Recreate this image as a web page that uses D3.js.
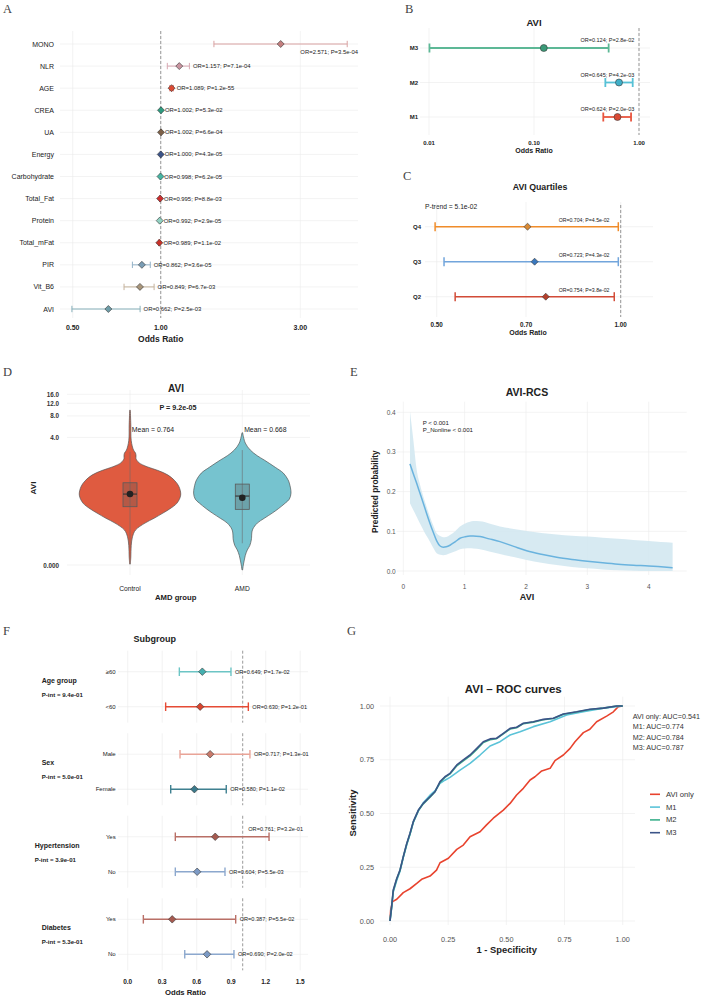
<!DOCTYPE html>
<html><head><meta charset="utf-8">
<script src="https://cdn.jsdelivr.net/npm/d3@7"></script>
<style>body{margin:0;background:#fff}</style>
</head><body>
<svg id="c" width="703" height="999"></svg>
<script>
// ---------------- DATA ----------------
// Panel A
const aVars = ["MONO","NLR","AGE","CREA","UA","Energy","Carbohydrate","Total_Fat","Protein","Total_mFat","PIR","Vit_B6","AVI"];
const aOR   = [2.571,1.157,1.089,1.002,1.002,1.000,0.998,0.995,0.992,0.989,0.862,0.849,0.662];
const aLow  = [1.52,1.053,1.075,0.997,0.998,0.997,0.995,0.991,0.988,0.984,0.80,0.749,0.497];
const aHigh = [4.34,1.253,1.103,1.006,1.006,1.003,1.001,0.999,0.996,0.994,0.921,0.949,0.85];
const aP    = ["3.5e-04","7.1e-04","1.2e-55","5.3e-02","6.6e-04","4.3e-05","6.2e-05","8.8e-03","2.9e-05","1.1e-02","3.6e-05","6.7e-03","2.5e-03"];
const aPtCol  = ["#C47F7F","#C994A0","#DD4A33","#2E9C80","#7E6148","#3C5488","#46B5A3","#CC2F2F","#91D1C2","#C8322A","#7A9DB5","#A8957A","#6E9DA8"];
const aBarCol = ["#D9A2A2","#D8A8B2","#E06050","#3FA88F","#8B6E52","#4A62A0","#5BBDAD","#D04040","#A0D8CB","#CC4035","#93B2C8","#C5B39C","#86B0BA"];
const aTicks = [0.5,1,3];

// Panel B
const bModels = ["M1","M2","M3"];
const bOR   = [0.624,0.645,0.124];
const bLow  = [0.457,0.478,0.0101];
const bHigh = [0.84,0.871,0.514];
const bP    = ["2.0e-03","4.2e-03","2.8e-02"];
const bBarCol = ["#E8553F","#56C1D6","#5DB896"];
const bPtCol  = ["#D94A35","#3FAFC8","#3A9A78"];
const bTicks = [0.01,0.1,1];
const bLabelAt = 0.5;

// Panel C
const cQuart = ["Q2","Q3","Q4"];
const cOR   = [0.754,0.723,0.704];
const cLow  = [0.536,0.514,0.497];
const cHigh = [0.976,0.991,0.991];
const cP    = ["3.8e-02","4.3e-02","4.5e-02"];
const cBarCol = ["#D24B37","#72A5DC","#F08C2A"];
const cPtCol  = ["#B5402B","#3A78BE","#D98A35"];
const cTicks = [0.5,0.7,1];
const cLabelAt = 0.871;
const cTrend = "P-trend = 5.1e-02";

// Panel D (violin)
const dGroups = ["Control","AMD"];
const dFill = ["#DF5B40","#76C3CF"];
const ctrlLevels = [9.6,6.0,3.6,2.65,2.4,2.2,2.0,1.75,1.53,1.35,1.157,0.95,0.775,0.579,0.433,0.35,0.296,0.24,0.196,0.143,0.102,0.06,0.02,0.002];
const ctrlDens   = [0.006,0.016,0.024,0.069,0.108,0.118,0.118,0.176,0.333,0.549,0.745,0.882,0.961,0.994,0.922,0.784,0.647,0.471,0.294,0.108,0.049,0.024,0.016,0.006];
const amdLevels  = [4.65,3.33,2.65,2.2,1.91,1.5,1.237,1.0,0.881,0.622,0.5,0.433,0.35,0.296,0.24,0.196,0.15,0.124,0.1,0.085,0.06,0.043,0.025,0.012,0.0,-0.012];
const amdDens    = [0.006,0.059,0.157,0.294,0.431,0.647,0.804,0.892,0.922,0.955,0.922,0.843,0.706,0.588,0.431,0.294,0.206,0.186,0.182,0.176,0.147,0.098,0.059,0.039,0.02,0.006];
const dQ1 = [0.378,0.342], dMed = [0.60,0.559], dQ3 = [0.89,0.851];
const dWhLo = [0.05,0.07], dWhHi = [2.5,2.65];
const dMeanDot = [0.60,0.526];
const dMeanLab = ["Mean = 0.764","Mean = 0.668"];
const dTicks = [0,4,8,12,16];
const dTickLab = ["0.000","4.0","8.0","12.0","16.0"];
const dPval = "P = 9.2e-05";

// Panel E (RCS)
const eX   = [0.109,0.163,0.218,0.272,0.326,0.38,0.435,0.49,0.544,0.6,0.652,0.7,0.761,0.85,0.924,1.0,1.087,1.14,1.25,1.4,1.576,1.8,2.011,2.25,2.5,2.75,3.0,3.25,3.5,3.75,4.0,4.2,4.39];
const eFit = [0.270,0.245,0.221,0.196,0.171,0.145,0.120,0.097,0.076,0.063,0.060,0.061,0.065,0.074,0.0825,0.086,0.0884,0.0885,0.0867,0.081,0.074,0.062,0.051,0.042,0.0345,0.029,0.0245,0.0205,0.017,0.0145,0.0126,0.0105,0.0084];
const eHi  = [0.402,0.331,0.255,0.218,0.188,0.162,0.137,0.114,0.095,0.088,0.085,0.086,0.091,0.101,0.112,0.119,0.124,0.126,0.1255,0.120,0.112,0.106,0.101,0.096,0.092,0.089,0.0867,0.084,0.081,0.078,0.0755,0.073,0.0715];
const eLo  = [0.171,0.154,0.137,0.120,0.1035,0.088,0.074,0.058,0.0447,0.041,0.040,0.041,0.0447,0.050,0.055,0.057,0.0575,0.057,0.055,0.049,0.043,0.035,0.028,0.021,0.015,0.010,0.0068,0.004,0.0022,0.0008,0.0003,0.0001,0.0];
const eXTicks = [0,1,2,3,4];
const eYTicks = [0,0.1,0.2,0.3,0.4];

// Panel F (subgroup)
const fGroups = ["Age group","Sex","Hypertension","Diabetes"];
const fPint   = ["9.4e-01","5.0e-01","3.9e-01","5.3e-01"];
const fRowGroup = [0,0,1,1,2,2,3,3];
const fRowLab = ["≥60","<60","Male","Female","Yes","No","Yes","No"];
const fOR   = [0.649,0.630,0.717,0.580,0.761,0.604,0.387,0.690];
const fLow  = [0.449,0.33,0.455,0.374,0.414,0.414,0.136,0.496];
const fHigh = [0.898,1.049,1.063,0.857,1.229,0.846,0.939,0.924];
const fP    = ["1.7e-02","1.2e-01","1.3e-01","1.1e-02","3.2e-01","5.5e-03","5.5e-02","2.0e-02"];
const fBarCol = ["#6CC5C5","#E64B35","#E9A497","#3F8090","#B96F66","#8CA8CE","#B96F66","#8CA8CE"];
const fPtCol  = ["#45B0B0","#D9452E","#C97A6B","#3A7A8C","#A65A50","#7C9AC5","#A65A50","#7C9AC5"];
const fTicks = [0,0.3,0.6,0.9,1.2,1.5];

// Panel G (ROC)
const rocNames = ["AVI only","M1","M2","M3"];
const rocAUC = ["0.541","0.774","0.784","0.787"];
const rocCol = ["#E8432E","#5BC3D8","#3DB08D","#3C5488"];
const rocAviFpr = [0,0.003,0.011,0.029,0.057,0.086,0.115,0.136,0.172,0.2,0.215,0.251,0.287,0.315,0.344,0.387,0.415,0.444,0.487,0.516,0.544,0.573,0.602,0.623,0.652,0.688,0.709,0.745,0.774,0.795,0.831,0.859,0.888,0.931,0.96,0.981,1.0];
const rocAviTpr = [0,0.051,0.09,0.101,0.132,0.150,0.175,0.194,0.209,0.237,0.271,0.292,0.333,0.353,0.392,0.415,0.447,0.478,0.516,0.547,0.586,0.617,0.656,0.671,0.698,0.710,0.746,0.772,0.803,0.834,0.876,0.892,0.927,0.953,0.973,0.997,1.0];
const rocM1Fpr = [0,0.007,0.014,0.029,0.043,0.057,0.072,0.086,0.1,0.122,0.143,0.172,0.193,0.215,0.236,0.258,0.301,0.344,0.387,0.43,0.473,0.516,0.559,0.616,0.688,0.759,0.831,0.917,1.0];
const rocM1Tpr = [0,0.06,0.135,0.19,0.232,0.295,0.355,0.403,0.458,0.512,0.55,0.585,0.605,0.64,0.655,0.668,0.702,0.733,0.772,0.814,0.834,0.865,0.880,0.904,0.927,0.958,0.973,0.99,1.0];
const rocM23Fpr = [0,0.007,0.014,0.029,0.043,0.057,0.072,0.086,0.1,0.122,0.143,0.172,0.193,0.215,0.236,0.258,0.287,0.315,0.344,0.373,0.401,0.43,0.458,0.487,0.516,0.544,0.573,0.616,0.659,0.702,0.745,0.802,0.859,0.917,0.974,1.0];
const rocM2Tpr = [0,0.065,0.14,0.195,0.235,0.297,0.358,0.405,0.46,0.514,0.545,0.576,0.6,0.645,0.668,0.684,0.722,0.745,0.768,0.798,0.83,0.843,0.848,0.87,0.893,0.899,0.918,0.925,0.936,0.942,0.962,0.972,0.984,0.99,1.0,1.0];
const rocM3Tpr = [0,0.067,0.144,0.198,0.237,0.299,0.361,0.408,0.462,0.516,0.547,0.578,0.601,0.648,0.671,0.687,0.726,0.749,0.772,0.803,0.834,0.847,0.85,0.873,0.896,0.901,0.92,0.927,0.938,0.943,0.963,0.973,0.985,0.99,1.0,1.0];
const gTicks = [0,0.25,0.5,0.75,1];

// ---------------- DRAW ----------------
const svg = d3.select("#c");
svg.append("rect").attr("width",703).attr("height",999).attr("fill","#fff");
const GRID = "#EBEBEB";
const SANS = "'Liberation Sans', Arial, Helvetica, sans-serif";
const SERIF = "'Liberation Serif', 'DejaVu Serif', serif";

function txt(g, x, y, s, o = {}) {
  const t = g.append("text").attr("x", x).attr("y", y).text(s)
    .attr("font-size", o.size || 7)
    .attr("font-weight", o.bold ? "bold" : "normal")
    .attr("fill", o.fill || "#222")
    .attr("text-anchor", o.anchor || "start")
    .attr("dominant-baseline", "central")
    .attr("font-family", o.serif ? SERIF : SANS);
  if (o.rot) t.attr("transform", `rotate(-90,${x},${y})`);
  return t;
}
function hline(g, x1, x2, y, col, w) {
  return g.append("line").attr("x1", x1).attr("x2", x2).attr("y1", y).attr("y2", y)
    .attr("stroke", col || GRID).attr("stroke-width", w || 0.6);
}
function vline(g, x, y1, y2, col, w) {
  return g.append("line").attr("x1", x).attr("x2", x).attr("y1", y1).attr("y2", y2)
    .attr("stroke", col || GRID).attr("stroke-width", w || 0.6);
}
function dashed(g, x, y1, y2) {
  vline(g, x, y1, y2, "#6E6E6E", 0.7).attr("stroke-dasharray", "3,2");
}
function diamond(g, x, y, diag, fill) {
  const side = diag / Math.SQRT2;
  g.append("path").attr("d", d3.symbol().type(d3.symbolSquare).size(side * side)())
    .attr("transform", `translate(${x},${y}) rotate(45)`)
    .attr("fill", fill).attr("stroke", "#3A3A3A").attr("stroke-width", 0.6);
}
function errbar(g, x1, x2, y, col, w, cap) {
  hline(g, x1, x2, y, col, w);
  vline(g, x1, y - cap, y + cap, col, w);
  vline(g, x2, y - cap, y + cap, col, w);
}
const orLabel = (or, p) => `OR=${d3.format(".3f")(or)}; P=${p}`;

// panel letters
[["A",3,9],["B",405,9],["C",403,176],["D",3,372],["E",350,372],["F",3,631],["G",347,631]]
  .forEach(([s,x,y]) => txt(svg, x, y, s, {size: 12.5, serif: true, fill: "#444"}));

// ===== Panel A =====
{
  const g = svg.append("g");
  const x = d3.scaleLog().domain([0.5, 3]).range([72.7, 300.3]);
  const y = d3.scalePoint().domain(aVars).range([44, 309]);
  aVars.forEach(v => hline(g, 60, 358, y(v)));
  aTicks.forEach(t => vline(g, x(t), 31, 318));
  dashed(g, x(1), 31, 318);
  aVars.forEach((v, i) => {
    const yy = y(v);
    errbar(g, x(aLow[i]), x(aHigh[i]), yy, aBarCol[i], 1, 3.2);
    diamond(g, x(aOR[i]), yy, 7, aPtCol[i]);
    txt(g, 54, yy, v, {size: 7, anchor: "end", fill: "#1a1a1a"});
    const lab = txt(g, x(aHigh[i]) + 3.5, yy, orLabel(aOR[i], aP[i]), {size: 5.9, fill: "#1a1a1a"});
    const w = lab.node().getComputedTextLength();
    if (x(aHigh[i]) + 3.5 + w > 362) lab.attr("x", 358).attr("y", yy + 8).attr("text-anchor", "end");
  });
  aTicks.forEach(t => txt(g, x(t), 327, d3.format(".2f")(t), {size: 7, bold: true, anchor: "middle"}));
  txt(g, x(1), 339, "Odds Ratio", {size: 8.5, bold: true, anchor: "middle"});
}

// ===== Panel B =====
{
  const g = svg.append("g");
  const x = d3.scaleLog().domain([0.01, 1]).range([429, 639]);
  const y = d3.scalePoint().domain(bModels).range([117, 48]);
  txt(g, 534, 22, "AVI", {size: 9.5, bold: true, anchor: "middle"});
  bModels.forEach(m => hline(g, 420, 650, y(m)));
  bTicks.forEach(t => vline(g, x(t), 28, 135));
  dashed(g, x(1), 28, 135);
  bModels.forEach((m, i) => {
    const yy = y(m);
    errbar(g, x(bLow[i]), x(bHigh[i]), yy, bBarCol[i], 1.8, 4.5);
    g.append("circle").attr("cx", x(bOR[i])).attr("cy", yy).attr("r", 3.5)
      .attr("fill", bPtCol[i]).attr("stroke", "#3A3A3A").attr("stroke-width", 0.6);
    txt(g, x(bLabelAt), yy - 8, orLabel(bOR[i], bP[i]), {size: 5.5, anchor: "middle", fill: "#1a1a1a"});
    txt(g, 418, yy, m, {size: 6, bold: true, anchor: "end"});
  });
  bTicks.forEach(t => txt(g, x(t), 143.3, d3.format(".2f")(t), {size: 6, bold: true, anchor: "middle"}));
  txt(g, 534, 150.7, "Odds Ratio", {size: 7, bold: true, anchor: "middle"});
}

// ===== Panel C =====
{
  const g = svg.append("g");
  const x = d3.scaleLog().domain([0.5, 1]).range([436.7, 620.7]);
  const y = d3.scalePoint().domain(cQuart).range([296.7, 226.7]);
  txt(g, 540, 187, "AVI  Quartiles", {size: 8.8, bold: true, anchor: "middle"});
  txt(g, 425, 206, cTrend, {size: 6.7});
  cQuart.forEach(q => hline(g, 425, 653, y(q)));
  cTicks.forEach(t => vline(g, x(t), 202, 317));
  dashed(g, x(1), 205, 317);
  cQuart.forEach((q, i) => {
    const yy = y(q);
    errbar(g, x(cLow[i]), x(cHigh[i]), yy, cBarCol[i], 1.5, 4.5);
    diamond(g, x(cOR[i]), yy, 7, cPtCol[i]);
    txt(g, x(cLabelAt), yy - 7, orLabel(cOR[i], cP[i]), {size: 5.2, anchor: "middle", fill: "#1a1a1a"});
    txt(g, 421, yy, q, {size: 6, bold: true, anchor: "end"});
  });
  cTicks.forEach(t => txt(g, x(t), 324, d3.format(".2f")(t), {size: 6.3, bold: true, anchor: "middle"}));
  txt(g, 528, 332, "Odds Ratio", {size: 7, bold: true, anchor: "middle"});
}

// ===== Panel D =====
{
  const g = svg.append("g");
  const y = d3.scaleSymlog().constant(0.07).domain([0, 16]).range([565, 394.3]);
  const x = d3.scalePoint().domain(dGroups).range([130, 242.3]);
  const w = d3.scaleLinear().domain([0, 1]).range([0, 51]);
  dTicks.forEach(t => hline(g, 67, 310, y(t)));
  dGroups.forEach(gr => vline(g, x(gr), 390, 575));
  txt(g, 176, 388, "AVI", {size: 10, bold: true, anchor: "middle"});
  txt(g, 178, 407.7, dPval, {size: 7.2, bold: true, anchor: "middle"});
  const levels = [ctrlLevels, amdLevels], dens = [ctrlDens, amdDens];
  dGroups.forEach((gr, i) => {
    const cx = x(gr);
    const pts = levels[i].map((v, k) => ({v, d: dens[i][k]}));
    const area = d3.area().curve(d3.curveCatmullRom.alpha(0.5))
      .y(p => y(p.v)).x0(p => cx - w(p.d)).x1(p => cx + w(p.d));
    g.append("path").attr("d", area(pts)).attr("fill", dFill[i])
      .attr("stroke", "#555").attr("stroke-width", 0.7);
    vline(g, cx, y(dWhHi[i]), y(dWhLo[i]), "#6a6a6a", 0.8).attr("opacity", 0.7);
    g.append("rect").attr("x", cx - 7).attr("width", 14)
      .attr("y", y(dQ3[i])).attr("height", y(dQ1[i]) - y(dQ3[i]))
      .attr("fill", "#555").attr("fill-opacity", 0.3).attr("stroke", "#5a5a5a").attr("stroke-width", 0.8);
    hline(g, cx - 7, cx + 7, y(dMed[i]), "#333", 1.1);
    g.append("circle").attr("cx", cx).attr("cy", y(dMeanDot[i])).attr("r", 3.3).attr("fill", "#222");
    txt(g, cx + 23, 429, dMeanLab[i], {size: 6.9, fill: "#222", anchor: "middle"});
    txt(g, cx, 588.7, gr, {size: 6.7, anchor: "middle", fill: "#1a1a1a"});
  });
  dTicks.forEach((t, i) => txt(g, 59, y(t), dTickLab[i], {size: 6.3, bold: true, anchor: "end", fill: "#333"}));
  txt(g, 33, 488, "AVI", {size: 8, bold: true, anchor: "middle", rot: true});
  txt(g, 175.7, 597.7, "AMD group", {size: 7.7, bold: true, anchor: "middle"});
}

// ===== Panel E =====
{
  const g = svg.append("g");
  const x = d3.scaleLinear().domain([0, 4]).range([403.3, 648.7]);
  const y = d3.scaleLinear().domain([0, 0.4]).range([571, 412.3]);
  eXTicks.forEach(t => vline(g, x(t), 401.7, 575));
  eYTicks.forEach(t => hline(g, 396.7, 686.7, y(t)));
  const pts = eX.map((v, i) => ({x: v, f: eFit[i], lo: eLo[i], hi: eHi[i]}));
  g.append("path").attr("d", d3.area().curve(d3.curveMonotoneX).x(p => x(p.x)).y0(p => y(p.lo)).y1(p => y(p.hi))(pts))
    .attr("fill", "#D3E8F1").attr("fill-opacity", 0.9);
  g.append("path").attr("d", d3.line().curve(d3.curveMonotoneX).x(p => x(p.x)).y(p => y(p.f))(pts))
    .attr("fill", "none").attr("stroke", "#6AB3DE").attr("stroke-width", 1.5);
  txt(g, 527, 392, "AVI-RCS", {size: 10.5, bold: true, anchor: "middle"});
  txt(g, 422.7, 422.3, "P < 0.001", {size: 6.1});
  txt(g, 422.7, 429.5, "P_Nonline < 0.001", {size: 6.1});
  eXTicks.forEach(t => txt(g, x(t), 586.7, String(t), {size: 6.5, anchor: "middle", fill: "#555"}));
  eYTicks.forEach(t => txt(g, 395.7, y(t), d3.format(".1f")(t), {size: 6.5, anchor: "end", fill: "#555"}));
  txt(g, 527, 596.7, "AVI", {size: 9, bold: true, anchor: "middle"});
  txt(g, 375, 491.7, "Predicted probability", {size: 8.3, bold: true, anchor: "middle", rot: true});
}

// ===== Panel F =====
{
  const g = svg.append("g");
  const x = d3.scaleLinear().domain([0, 1.5]).range([127.7, 300.2]);
  const gy = d3.scalePoint().domain(fGroups).range([671.7, 919.3]);
  const rowY = i => gy(fGroups[fRowGroup[i]]) + (fRowGroup[i] === fRowGroup[i - 1] ? 35 : 0);
  txt(g, 154.7, 638.5, "Subgroup", {size: 9, bold: true, anchor: "middle"});
  fGroups.forEach((gr, k) => {
    const top = gy(gr) - 21, bot = gy(gr) + 35 + 16;
    fTicks.forEach(t => vline(g, x(t), top, bot));
    dashed(g, x(1), top, bot);
    const t1 = txt(g, 41.7, gy(gr) + 8.6, gr, {size: 7, bold: true});
    const shift = Math.min(0, 79.5 - (41.7 + t1.node().getComputedTextLength()));
    t1.attr("x", 41.7 + shift);
    txt(g, 41.7 + shift, gy(gr) + 22.3, `P-int = ${fPint[k]}`, {size: 6.1, bold: true});
  });
  fRowLab.forEach((lab, i) => hline(g, 118, 308, rowY(i)));
  fRowLab.forEach((lab, i) => {
    const yy = rowY(i);
    errbar(g, x(fLow[i]), x(fHigh[i]), yy, fBarCol[i], 1.4, 4.3);
    diamond(g, x(fOR[i]), yy, 7.5, fPtCol[i]);
    txt(g, 115.7, yy, lab, {size: 6, anchor: "end", fill: "#1a1a1a"});
    const l = txt(g, x(fHigh[i]) + 4, yy, orLabel(fOR[i], fP[i]), {size: 5.6, fill: "#1a1a1a"});
    const w = l.node().getComputedTextLength();
    if (x(fHigh[i]) + 4 + w > 315) l.attr("x", 303).attr("y", yy - 8).attr("text-anchor", "end");
  });
  fTicks.forEach(t => txt(g, x(t), 981.7, d3.format(".1f")(t), {size: 6.5, bold: true, anchor: "middle"}));
  txt(g, 185.5, 992.7, "Odds Ratio", {size: 7.7, bold: true, anchor: "middle"});
}

// ===== Panel G =====
{
  const g = svg.append("g");
  const x = d3.scaleLinear().domain([0, 1]).range([390, 622.7]);
  const y = d3.scaleLinear().domain([0, 1]).range([921, 706]);
  gTicks.forEach(t => vline(g, x(t), 696.7, 925));
  gTicks.forEach(t => hline(g, 380, 635, y(t)));
  const curves = [
    [rocAviFpr, rocAviTpr], [rocM1Fpr, rocM1Tpr], [rocM23Fpr, rocM2Tpr], [rocM23Fpr, rocM3Tpr]
  ];
  const line = d3.line().x(p => x(p[0])).y(p => y(p[1]));
  curves.forEach(([fx, ty], i) => {
    g.append("path").attr("d", line(fx.map((v, k) => [v, ty[k]])))
      .attr("fill", "none").attr("stroke", rocCol[i]).attr("stroke-width", 1.6)
      .attr("stroke-linejoin", "round");
  });
  txt(g, 513.3, 689, "AVI – ROC curves", {size: 11.5, bold: true, anchor: "middle"});
  gTicks.forEach(t => txt(g, x(t), 939, d3.format(".2f")(t), {size: 7.3, anchor: "middle", fill: "#555"}));
  gTicks.forEach(t => txt(g, 374, y(t), d3.format(".2f")(t), {size: 7.3, anchor: "end", fill: "#555"}));
  txt(g, 506.7, 949.3, "1 - Specificity", {size: 9.4, bold: true, anchor: "middle"});
  txt(g, 352.5, 813, "Sensitivity", {size: 9.4, bold: true, anchor: "middle", rot: true});
  rocNames.forEach((n, i) => txt(g, 632.7, 716 + i * 10.57, `${n}: AUC=${rocAUC[i]}`, {size: 7.2, fill: "#333"}));
  rocNames.forEach((n, i) => {
    const yy = 794.3 + i * 12.8;
    hline(g, 650, 660, yy, rocCol[i], 1.6);
    txt(g, 666, yy, n, {size: 7.6, fill: "#333"});
  });
}
</script>
</body></html>
